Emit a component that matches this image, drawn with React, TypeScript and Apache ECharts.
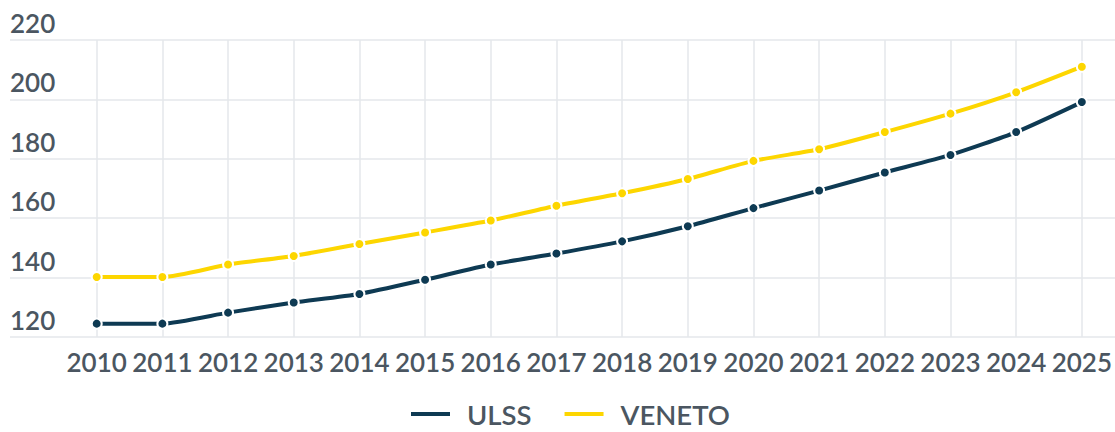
import React, { useEffect, useRef } from "react";
import * as echarts from "echarts";

const years = ["2010","2011","2012","2013","2014","2015","2016","2017","2018","2019","2020","2021","2022","2023","2024","2025"];
const ulss = [124.5,124.5,128.2,131.6,134.5,139.3,144.4,148.1,152.2,157.3,163.4,169.3,175.4,181.3,189.0,199.1];
const veneto = [140.2,140.2,144.4,147.3,151.3,155.2,159.2,164.2,168.4,173.2,179.3,183.2,189.0,195.2,202.4,211.0];
const yMin = 120;
const yMax = 220;
const yStep = 20;

const NAVY = "#0e3a53";
const YELLOW = "#fdd600";
const TEXT = "#4b5661";
const GRIDC = "#e5e7eb";
const FONT = "Lato";
const WEIGHT = 600;

export default function App() {
  const ref = useRef<HTMLDivElement>(null);
  useEffect(() => {
    if (!ref.current) return;
    const chart = echarts.init(ref.current, undefined, { renderer: "svg" });
    chart.setOption({
      animation: false,
      grid: [
        { left: 10, right: 0, top: 40, height: 297 },
        { left: 96.7, right: 32.3, top: 40, height: 297 },
      ],
      legend: {
        data: ["ULSS", "VENETO"],
        left: 409,
        top: 400,
        padding: 0,
        icon: "path://M0,0H41V6H0Z M52,6",
        itemWidth: 52,
        itemHeight: 6,
        itemGap: 31,
        textStyle: {
          fontFamily: FONT,
          fontSize: 27.5,
          lineHeight: 28,
          fontWeight: WEIGHT,
          color: TEXT,
        },
      },
      xAxis: [
        { type: "category", gridIndex: 0, data: years, show: false },
        {
          type: "category",
          gridIndex: 1,
          data: years,
          boundaryGap: false,
          axisLine: { show: false },
          axisTick: { show: false },
          splitLine: { show: true, lineStyle: { color: GRIDC, width: 1.5 } },
          axisLabel: { interval: 0, margin: 12, fontFamily: FONT, fontSize: 26, fontWeight: WEIGHT, color: TEXT },
        },
      ],
      yAxis: [
        {
          type: "value",
          gridIndex: 0,
          min: yMin,
          max: yMax,
          interval: yStep,
          axisLine: { show: false },
          axisTick: { show: false },
          splitLine: { show: true, lineStyle: { color: GRIDC, width: 1.5 } },
          axisLabel: {
            inside: true,
            margin: 0,
            align: "left",
            verticalAlign: "bottom",
            padding: [0, 0, 4, 0],
            fontFamily: FONT,
            fontSize: 26,
            fontWeight: WEIGHT,
            color: TEXT,
          },
        },
        {
          type: "value",
          gridIndex: 1,
          min: yMin,
          max: yMax,
          interval: yStep,
          show: false,
          splitLine: { show: false },
        },
      ],
      series: [
        {
          name: "ULSS",
          type: "line",
          xAxisIndex: 1,
          yAxisIndex: 1,
          data: ulss,
          smooth: 0.2,
          symbol: "circle",
          symbolSize: 10,
          color: NAVY,
          lineStyle: { color: NAVY, width: 4 },
          itemStyle: { color: NAVY, borderColor: "#fff", borderWidth: 2 },
        },
        {
          name: "VENETO",
          type: "line",
          xAxisIndex: 1,
          yAxisIndex: 1,
          data: veneto,
          smooth: 0.2,
          symbol: "circle",
          symbolSize: 10,
          color: YELLOW,
          lineStyle: { color: YELLOW, width: 4 },
          itemStyle: { color: YELLOW, borderColor: "#fff", borderWidth: 2 },
        },
      ],
    });
    return () => chart.dispose();
  }, []);
  return (
    <div
      ref={ref}
      style={{ position: "absolute", left: 0, top: 0, width: 1115, height: 432, background: "#fff" }}
    />
  );
}
